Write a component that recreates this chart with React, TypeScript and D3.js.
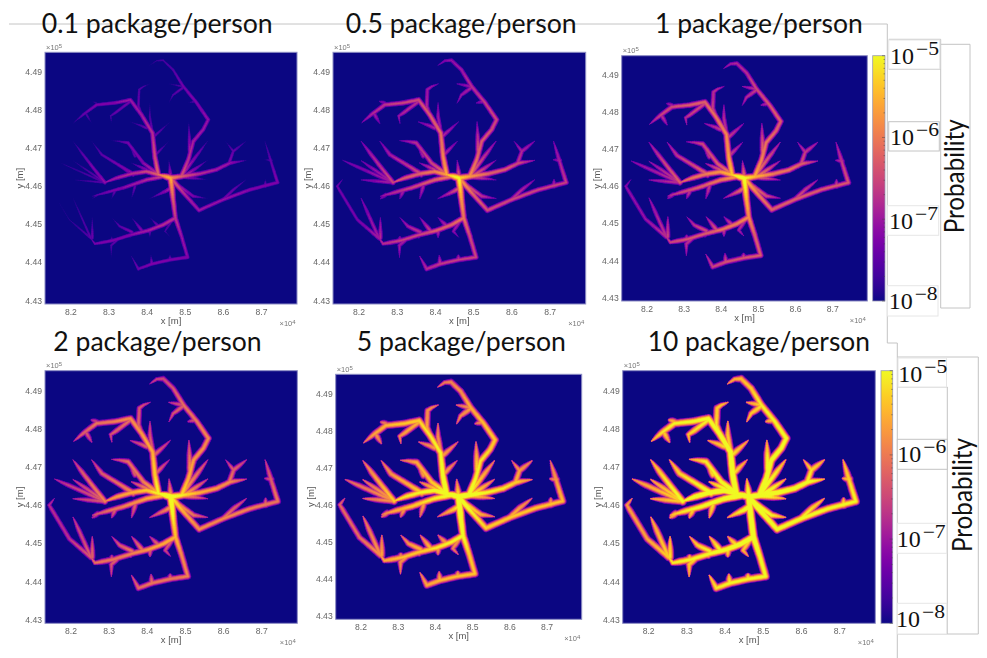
import React, { useMemo } from "react";
import * as d3 from "d3";

// Each network point: x [×10^4 m], y [×10^5 m], colour-scale level at 0.1 package/person
type P = [number, number, number];

const hubLink: P[] = [[8.462, 4.4622, 0.85], [8.429, 4.4631, 0.7]];
const northTrunk: P[] = [[8.429, 4.4631, 0.62], [8.42, 4.4679, 0.52], [8.414, 4.474, 0.44], [8.385, 4.4788, 0.38], [8.356, 4.4827, 0.34], [8.315, 4.4819, 0.3], [8.267, 4.4814, 0.26], [8.232, 4.4788, 0.2], [8.208, 4.4768, 0.1]];
const westTrunk: P[] = [[8.429, 4.4631, 0.6], [8.398, 4.4639, 0.5], [8.359, 4.4633, 0.42], [8.32, 4.4622, 0.38], [8.289, 4.461, 0.36]];
const westSouthTrunk: P[] = [[8.442, 4.4626, 0.5], [8.398, 4.4617, 0.4], [8.337, 4.4596, 0.3], [8.257, 4.4574, 0.16]];
const southTrunk: P[] = [[8.462, 4.4622, 0.85], [8.468, 4.4565, 0.58], [8.474, 4.4517, 0.46], [8.49, 4.4469, 0.33], [8.506, 4.4414, 0.3], [8.46, 4.4407, 0.28], [8.412, 4.4396, 0.27], [8.377, 4.4383, 0.22], [8.359, 4.4416, 0.12]];
const southWestTrunk: P[] = [[8.474, 4.4517, 0.46], [8.442, 4.4499, 0.42], [8.403, 4.4484, 0.38], [8.359, 4.4473, 0.3], [8.311, 4.4458, 0.28], [8.263, 4.4449, 0.25], [8.252, 4.4464, 0.2]];
const eastTrunk: P[] = [[8.462, 4.4622, 0.75], [8.49, 4.4626, 0.58], [8.538, 4.4633, 0.42], [8.582, 4.4644, 0.38], [8.617, 4.4661, 0.32], [8.659, 4.4668, 0.12]];
const northEastTrunk: P[] = [[8.49, 4.4626, 0.55], [8.508, 4.467, 0.44], [8.521, 4.4718, 0.38], [8.536, 4.4736, 0.36], [8.547, 4.4749, 0.34], [8.56, 4.4775, 0.32], [8.53, 4.4819, 0.28], [8.495, 4.4862, 0.24], [8.468, 4.4906, 0.16], [8.442, 4.4931, 0.12], [8.425, 4.493, 0.1], [8.407, 4.4918, 0.05]];
const southEastTrunk: P[] = [[8.462, 4.4622, 0.6], [8.503, 4.4574, 0.4], [8.536, 4.4537, 0.34], [8.599, 4.4565, 0.32], [8.669, 4.4591, 0.3], [8.742, 4.461, 0.28], [8.726, 4.4661, 0.2], [8.709, 4.4718, 0.08]];

const northBranches: P[][] = [
  [[8.356, 4.4823, 0.24], [8.315, 4.4792, 0.2], [8.304, 4.4785, 0.15], [8.307, 4.4766, 0.06]],
  [[8.385, 4.4788, 0.25], [8.377, 4.481, 0.2], [8.379, 4.4854, 0.16], [8.39, 4.4862, 0.14], [8.407, 4.4869, 0.04]],
  [[8.414, 4.474, 0.2], [8.407, 4.4784, 0.14], [8.407, 4.4819, 0.04]],
  [[8.398, 4.4753, 0.2], [8.385, 4.4759, 0.15], [8.356, 4.4769, 0.04]],
  [[8.418, 4.4731, 0.22], [8.46, 4.4769, 0.04]],
  [[8.422, 4.4683, 0.22], [8.457, 4.4718, 0.04]],
  [[8.241, 4.4788, 0.16], [8.254, 4.4766, 0.04]],
  [[8.267, 4.4819, 0.1], [8.254, 4.4823, 0.02]],
];
const westBranches: P[][] = [
  [[8.425, 4.4635, 0.42], [8.39, 4.4661, 0.3], [8.35, 4.4714, 0.24], [8.328, 4.4718, 0.14], [8.307, 4.472, 0.04]],
  [[8.368, 4.4679, 0.2], [8.353, 4.4712, 0.06]],
  [[8.398, 4.4644, 0.3], [8.359, 4.4661, 0.08]],
  [[8.363, 4.463, 0.32], [8.307, 4.4668, 0.08]],
  [[8.289, 4.461, 0.32], [8.259, 4.4648, 0.26], [8.232, 4.4683, 0.18], [8.206, 4.4718, 0.06]],
  [[8.363, 4.4633, 0.32], [8.281, 4.4683, 0.18], [8.255, 4.4718, 0.05]],
  [[8.289, 4.461, 0.22], [8.206, 4.4667, 0.05]],
  [[8.289, 4.461, 0.18], [8.158, 4.4668, 0.02]],
  [[8.289, 4.461, 0.18], [8.206, 4.4617, 0.04]],
  [[8.315, 4.4587, 0.2], [8.307, 4.4568, 0.04]],
  [[8.368, 4.46, 0.2], [8.359, 4.4568, 0.05]],
  [[8.27, 4.4578, 0.14], [8.257, 4.4568, 0.04]],
  [[8.252, 4.4464, 0.17], [8.196, 4.4512, 0.05], [8.143, 4.46, 0.03], [8.156, 4.4617, 0.0]],
  [[8.252, 4.4464, 0.18], [8.206, 4.4568, 0.05]],
  [[8.256, 4.4464, 0.22], [8.256, 4.4517, 0.08]],
];
const southBranches: P[][] = [
  [[8.36, 4.448, 0.26], [8.328, 4.4495, 0.18], [8.308, 4.4517, 0.05]],
  [[8.386, 4.4484, 0.28], [8.36, 4.4517, 0.08]],
  [[8.43, 4.4495, 0.24], [8.408, 4.4517, 0.05]],
  [[8.462, 4.4506, 0.2], [8.447, 4.4482, 0.12], [8.46, 4.4467, 0.04]],
  [[8.407, 4.4484, 0.22], [8.407, 4.4467, 0.06]],
  [[8.356, 4.4473, 0.15], [8.356, 4.4467, 0.05]],
  [[8.322, 4.446, 0.2], [8.306, 4.4445, 0.16], [8.306, 4.4414, 0.05]],
  [[8.307, 4.4458, 0.18], [8.307, 4.4467, 0.05]],
  [[8.464, 4.4596, 0.42], [8.448, 4.4587, 0.3], [8.407, 4.4568, 0.06]],
  [[8.46, 4.4407, 0.26], [8.46, 4.4418, 0.06]],
  [[8.412, 4.4396, 0.26], [8.41, 4.4418, 0.06]],
];
const eastBranches: P[][] = [
  [[8.462, 4.4622, 0.4], [8.457, 4.4668, 0.06]],
  [[8.477, 4.4605, 0.4], [8.521, 4.4574, 0.25], [8.558, 4.4568, 0.05]],
  [[8.49, 4.4626, 0.4], [8.558, 4.4617, 0.03]],
  [[8.5, 4.4628, 0.42], [8.558, 4.4668, 0.08]],
  [[8.495, 4.4635, 0.42], [8.558, 4.4718, 0.1]],
  [[8.512, 4.4692, 0.38], [8.509, 4.4769, 0.06]],
  [[8.615, 4.4661, 0.26], [8.626, 4.4692, 0.2], [8.606, 4.4718, 0.04]],
  [[8.626, 4.4692, 0.2], [8.659, 4.4718, 0.08]],
  [[8.599, 4.4565, 0.26], [8.626, 4.4591, 0.2], [8.659, 4.4617, 0.08]],
  [[8.71, 4.46, 0.26], [8.71, 4.4617, 0.06]],
  [[8.726, 4.4668, 0.18], [8.709, 4.467, 0.04]],
  [[8.495, 4.486, 0.2], [8.468, 4.484, 0.16], [8.457, 4.4819, 0.04]],
  [[8.495, 4.4862, 0.16], [8.457, 4.4869, 0.04]],
  [[8.525, 4.4823, 0.16], [8.508, 4.4819, 0.03]],
];

const network: P[][] = [
  hubLink, northTrunk, westTrunk, westSouthTrunk, southTrunk, southWestTrunk, eastTrunk, northEastTrunk, southEastTrunk,
  ...northBranches, ...westBranches, ...southBranches, ...eastBranches,
];

const xDomain = [8.132, 8.793];
const yDomain = [4.4291, 4.4952];
const xTickValues = [8.2, 8.3, 8.4, 8.5, 8.6, 8.7];
const yTickValues = [4.43, 4.44, 4.45, 4.46, 4.47, 4.48, 4.49];
const panelTitles = ["0.1 package/person", "0.5 package/person", "1 package/person", "2 package/person", "5 package/person", "10 package/person"];
const panelLevelShift = [0, 0.2, 0.28, 0.41, 0.6, 0.76];
const colorbarExponents = [-5, -6, -7, -8];

// layout (pixels)
const panelBoxes = [
  { l: 45, r: 297, t: 52.3, b: 304 },
  { l: 333, r: 585.7, t: 52.3, b: 304 },
  { l: 621.7, r: 867.3, t: 55.7, b: 301 },
  { l: 45, r: 297.3, t: 370.7, b: 623.3 },
  { l: 335.7, r: 581.7, t: 374.3, b: 619.3 },
  { l: 622.7, r: 875.3, t: 370.7, b: 623.3 },
];
const titleBoxes = [
  { l: 41.7, r: 272.7, y: 33 },
  { l: 345.7, r: 576.7, y: 33 },
  { l: 655, r: 862.7, y: 33 },
  { l: 53.3, r: 261.7, y: 351 },
  { l: 356.7, r: 566, y: 351 },
  { l: 647.7, r: 870, y: 351 },
];
const colorbars = [
  { l: 872.7, r: 885, t: 55.7, b: 301, labels: [[890, 63.6], [890, 145], [889, 229.3], [888.7, 309.3]], prob: [964, 176.3] },
  { l: 881, r: 892.7, t: 370.7, b: 623.3, labels: [[898.3, 381.7], [897.3, 462.3], [896.7, 546.7], [896, 627.3]], prob: [972.3, 495] },
];
const guideLines: [number, number][][] = [
  [[9, 24], [887.3, 24], [887.3, 343], [897.3, 343], [897.3, 658]],
  [[888.7, 39.3], [940.7, 39.3], [940.7, 308], [970, 308], [970, 44.3], [940.7, 44.3]],
  [[888.7, 69.3], [940.7, 69.3]],
  [[897.3, 357], [978.3, 357], [978.3, 634], [897.3, 634]],
  [[897.3, 387], [947.3, 387], [947.3, 634]],
];
const guideBoxes = [
  [888.7, 40, 51, 29], [888.7, 121.7, 50.6, 29.3], [887.3, 205.7, 51.4, 29.6], [887.3, 285.7, 50.7, 30.3],
  [898, 358, 48.5, 29], [897.3, 439.3, 50, 30], [897.3, 523.3, 49.4, 30], [897.3, 603.3, 49.4, 30.7],
];

const contours = [0.04, 0.1, 0.16, 0.22, 0.3, 0.38, 0.46, 0.54, 0.62, 0.7, 0.78, 0.86, 0.94, 1];
const halfWidth = (d: number) => 4.4 * Math.pow(d, 0.6);

function buildLayers(shift: number, x: d3.ScaleLinear<number, number>, y: d3.ScaleLinear<number, number>) {
  const buckets = new Map<string, { c: number; w: number; d: string[] }>();
  for (const line of network) {
    const pts = line.map(([a, b, v]) => [x(a), y(b), v]);
    const seg: number[] = [];
    let total = 0;
    for (let i = 1; i < pts.length; i++) {
      const s = Math.hypot(pts[i][0] - pts[i - 1][0], pts[i][1] - pts[i - 1][1]);
      seg.push(s);
      total += s;
    }
    let run = 0;
    for (let i = 1; i < pts.length; i++) {
      const [x0, y0, v0] = pts[i - 1];
      const [x1, y1, v1] = pts[i];
      const n = Math.max(1, Math.ceil(seg[i - 1] / 2.5));
      for (let j = 0; j < n; j++) {
        const t0 = j / n;
        const t1 = (j + 1) / n;
        const mid = (t0 + t1) / 2;
        const left = total - (run + seg[i - 1] * mid);
        const taper = Math.max(0.2, Math.min(1, Math.pow(left / Math.min(15, total * 0.7), 0.55)));
        const level = Math.min(1.25, v0 + (v1 - v0) * mid + shift);
        for (const c of contours) {
          if (level <= c) break;
          const w = Math.round(2 * halfWidth(level - c) * taper * 5) / 5;
          if (w <= 0) continue;
          const key = `${c}|${w}`;
          if (!buckets.has(key)) buckets.set(key, { c, w, d: [] });
          buckets.get(key)!.d.push(
            `M${(x0 + (x1 - x0) * t0).toFixed(1)} ${(y0 + (y1 - y0) * t0).toFixed(1)}L${(x0 + (x1 - x0) * t1).toFixed(1)} ${(y0 + (y1 - y0) * t1).toFixed(1)}`
          );
        }
      }
      run += seg[i - 1];
    }
  }
  return [...buckets.values()].sort((a, b) => a.c - b.c);
}

const axisFont = "'Liberation Sans', Arial, sans-serif";
const titleFont = "Lato, 'Open Sans', sans-serif";

function Panel({ index }: { index: number }) {
  const box = panelBoxes[index];
  const x = d3.scaleLinear().domain(xDomain).range([box.l, box.r]);
  const y = d3.scaleLinear().domain(yDomain).range([box.b, box.t]);
  const layers = useMemo(() => buildLayers(panelLevelShift[index], x, y), [index]);
  const cx = (box.l + box.r) / 2;
  const cy = (box.t + box.b) / 2;
  const title = titleBoxes[index];
  return (
    <g>
      <rect x={box.l} y={box.t} width={box.r - box.l} height={box.b - box.t} fill="#0b0682" stroke="#8c8cc4" strokeWidth={1} />
      <clipPath id={`clip${index}`}>
        <rect x={box.l} y={box.t} width={box.r - box.l} height={box.b - box.t} />
      </clipPath>
      <g clipPath={`url(#clip${index})`}>
        <g filter="url(#soft)" fill="none" strokeLinecap="round">
          {layers.map((l, i) => (
            <path key={i} d={l.d.join("")} stroke={d3.interpolatePlasma(Math.min(1, l.c + 0.03))} strokeWidth={l.w} />
          ))}
        </g>
      </g>
      <g fontFamily={axisFont} fontSize={8.6} fill="#666" filter="url(#softText)">
        {xTickValues.map((t) => (
          <text key={t} x={x(t)} y={box.b + 10.5} textAnchor="middle">{t.toFixed(1)}</text>
        ))}
        {yTickValues.map((t) => (
          <text key={t} x={box.l - 3} y={y(t) + 3} textAnchor="end">{t.toFixed(2)}</text>
        ))}
        <text x={cx} y={box.b + 19.5} textAnchor="middle" fill="#555" fontSize={9.5}>x [m]</text>
        <text transform={`translate(${box.l - 22} ${cy}) rotate(-90)`} textAnchor="middle" fill="#555" fontSize={9.5}>y [m]</text>
        <text x={box.r - 17.5} y={box.b + 22} fontSize={7.5} fill="#777">×10<tspan dy={-2.5} fontSize={6}>4</tspan></text>
        <text x={box.l + 1} y={box.t - 2.3} fontSize={7.5} fill="#777">×10<tspan dy={-2.5} fontSize={6}>5</tspan></text>
      </g>
      <text x={title.l} y={title.y} fontFamily={titleFont} fontSize={27} fill="#111" textLength={title.r - title.l} lengthAdjust="spacingAndGlyphs">
        {panelTitles[index]}
      </text>
    </g>
  );
}

function Colorbar({ index }: { index: number }) {
  const bar = colorbars[index];
  const scale = d3.scaleLog().domain([1e-8, 1e-5]).range([bar.b, bar.t]);
  const ticks = scale.ticks();
  return (
    <g>
      <rect x={bar.l} y={bar.t} width={bar.r - bar.l} height={bar.b - bar.t} fill="url(#plasmaBar)" stroke="#9a9ab4" strokeWidth={0.8} />
      {ticks.map((t, i) => {
        const major = Math.abs(Math.log10(t) - Math.round(Math.log10(t))) < 1e-6;
        return <line key={i} x1={bar.r} x2={bar.r - (major ? 3 : 1.5)} y1={scale(t)} y2={scale(t)} stroke="#444" strokeWidth={0.5} />;
      })}
      {colorbarExponents.map((e, i) => {
        const [lx, ly] = bar.labels[i];
        return (
          <g key={e} fontFamily="'Liberation Serif', serif" fill="#111">
            <text x={lx} y={ly} fontSize={24}>10</text>
            <text x={lx + 26} y={ly - 9} fontSize={18} textLength={23} lengthAdjust="spacingAndGlyphs">{`−${-e}`}</text>
          </g>
        );
      })}
      <text transform={`translate(${bar.prob[0]} ${bar.prob[1]}) rotate(-90)`} textAnchor="middle" fontFamily={titleFont} fontSize={27} fill="#111" textLength={114} lengthAdjust="spacingAndGlyphs">
        Probability
      </text>
    </g>
  );
}

export default function App() {
  const gradientStops = d3.range(0, 1.001, 0.05);
  return (
    <svg width={987} height={658} viewBox="0 0 987 658" style={{ position: "absolute", left: 0, top: 0, background: "#fff", display: "block" }}>
      <defs>
        <linearGradient id="plasmaBar" x1="0" y1="1" x2="0" y2="0">
          {gradientStops.map((t) => (
            <stop key={t} offset={t} stopColor={d3.interpolatePlasma(t)} />
          ))}
        </linearGradient>
        <filter id="soft" x="-5%" y="-5%" width="110%" height="110%">
          <feGaussianBlur stdDeviation={0.65} />
        </filter>
        <filter id="softText" x="-5%" y="-5%" width="110%" height="110%">
          <feGaussianBlur stdDeviation={0.25} />
        </filter>
      </defs>
      {guideLines.map((pts, i) => (
        <polyline key={i} points={pts.map((p) => p.join(",")).join(" ")} fill="none" stroke="#c4c4c4" strokeWidth={1} />
      ))}
      {guideBoxes.map(([bx, by, bw, bh], i) => (
        <rect key={i} x={bx} y={by} width={bw} height={bh} fill="#fff" stroke={i === 1 || i === 5 ? "#c4c4c4" : "#e6e6e6"} strokeWidth={1} />
      ))}
      {panelBoxes.map((_, i) => (
        <Panel key={i} index={i} />
      ))}
      {colorbars.map((_, i) => (
        <Colorbar key={i} index={i} />
      ))}
    </svg>
  );
}
